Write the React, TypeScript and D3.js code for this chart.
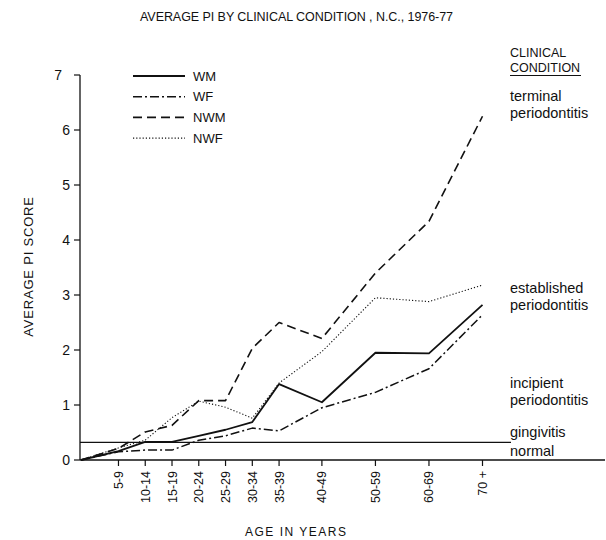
import React from "react";
import * as d3 from "d3";

const ageGroups = ["5-9", "10-14", "15-19", "20-24", "25-29", "30-34", "35-39", "40-49", "50-59", "60-69", "70 +"];
const ageMid = [7, 12, 17, 22, 27, 32, 37, 45, 55, 65, 75];
const yTicks = [0, 1, 2, 3, 4, 5, 6, 7];

const seriesNames = ["WM", "WF", "NWM", "NWF"];
const WM = [0.16, 0.33, 0.33, 0.44, 0.55, 0.69, 1.38, 1.05, 1.95, 1.94, 2.82];
const WF = [0.15, 0.18, 0.18, 0.36, 0.44, 0.58, 0.53, 0.95, 1.23, 1.66, 2.64];
const NWM = [0.21, 0.51, 0.63, 1.08, 1.08, 2.03, 2.5, 2.21, 3.4, 4.34, 6.25];
const NWF = [0.22, 0.36, 0.77, 1.07, 0.96, 0.76, 1.4, 1.97, 2.95, 2.88, 3.18];
const gingivitisLevel = 0.32;

const conditions = [
  { lines: ["terminal", "periodontitis"], y: 101 },
  { lines: ["established", "periodontitis"], y: 293 },
  { lines: ["incipient", "periodontitis"], y: 388 },
];

const FONT = "'Liberation Sans', Arial, Helvetica, sans-serif";

const styles: Record<string, { dash: string; width: number }> = {
  WM: { dash: "", width: 1.8 },
  WF: { dash: "9 3 2 3", width: 1.5 },
  NWM: { dash: "9 5", width: 1.6 },
  NWF: { dash: "1.2 2", width: 1.1 },
};

export default function App() {
  const x = d3.scaleLinear().domain([0, 75]).range([81, 482.5]);
  const y = d3.scaleLinear().domain([0, 7]).range([460, 75]);
  const values: Record<string, number[]> = { WM, WF, NWM, NWF };

  const line = d3
    .line<[number, number]>()
    .x((d) => x(d[0]))
    .y((d) => y(d[1]));

  const pathFor = (vals: number[]) =>
    line([[0, 0] as [number, number]].concat(vals.map((v, i) => [ageMid[i], v] as [number, number])));

  return (
    <svg
      width={606}
      height={540}
      style={{ position: "absolute", left: 0, top: 0, background: "#fff" }}
      fontFamily={FONT}
    >
      <rect width={606} height={540} fill="#fff" />
      {/* Title */}
      <text x={140} y={21} fontSize={12.5} fill="#111" textLength={313} lengthAdjust="spacing">
        AVERAGE PI BY CLINICAL CONDITION , N.C., 1976-77
      </text>

      {/* Y axis */}
      <line x1={80} x2={80} y1={y(7)} y2={y(0)} stroke="#111" strokeWidth={1.3} />
      {yTicks.map((t) => (
        <g key={t}>
          <line x1={74} x2={80} y1={y(t)} y2={y(t)} stroke="#111" strokeWidth={1.2} />
          <text x={t === 7 ? 62 : 70} y={y(t) + 5} fontSize={14} textAnchor="end" fill="#111">
            {t}
          </text>
        </g>
      ))}
      <text
        transform={`translate(33,266.5) rotate(-90)`}
        fontSize={13}
        textAnchor="middle"
        fill="#111"
        letterSpacing={0.8}
      >
        AVERAGE PI SCORE
      </text>

      {/* X axis */}
      <line x1={80} x2={605} y1={y(0)} y2={y(0)} stroke="#111" strokeWidth={1.3} />
      {ageGroups.map((g, i) => (
        <g key={g}>
          <line x1={x(ageMid[i])} x2={x(ageMid[i])} y1={460} y2={466} stroke="#111" strokeWidth={1.2} />
          <text
            transform={`translate(${x(ageMid[i]) + 4.5},471) rotate(-90)`}
            fontSize={12.5}
            textAnchor="end"
            fill="#111"
          >
            {g}
          </text>
        </g>
      ))}
      <text x={245} y={536} fontSize={12} fill="#111" letterSpacing={1.5}>
        AGE IN YEARS
      </text>

      {/* gingivitis threshold line */}
      <line x1={80} x2={511} y1={y(gingivitisLevel)} y2={y(gingivitisLevel)} stroke="#111" strokeWidth={1.2} />

      {/* Series */}
      {seriesNames.map((s) => (
        <path
          key={s}
          d={pathFor(values[s]) || ""}
          fill="none"
          stroke="#111"
          strokeWidth={styles[s].width}
          strokeDasharray={styles[s].dash || undefined}
          strokeLinejoin="round"
        />
      ))}

      {/* Legend */}
      {seriesNames.map((s, i) => {
        const ly = 76 + i * 20.7;
        return (
          <g key={s}>
            <line
              x1={133}
              x2={185}
              y1={ly}
              y2={ly}
              stroke="#111"
              strokeWidth={styles[s].width}
              strokeDasharray={styles[s].dash || undefined}
            />
            <text x={193} y={ly + 4.5} fontSize={13} fill="#111">
              {s}
            </text>
          </g>
        );
      })}

      {/* Clinical condition labels */}
      <text x={510} y={57} fontSize={12.5} fill="#111">
        CLINICAL
      </text>
      <text x={510} y={71.5} fontSize={12.5} fill="#111">
        CONDITION
      </text>
      <line x1={510} x2={581} y1={75.5} y2={75.5} stroke="#111" strokeWidth={1.2} />
      {conditions.map((c) => (
        <g key={c.lines[0]}>
          {c.lines.map((l, j) => (
            <text key={j} x={510} y={c.y + j * 16.5} fontSize={14.5} fill="#111">
              {l}
            </text>
          ))}
        </g>
      ))}
      <text x={510} y={437} fontSize={14.5} fill="#111">
        gingivitis
      </text>
      <text x={510} y={456} fontSize={14.5} fill="#111">
        normal
      </text>
    </svg>
  );
}
